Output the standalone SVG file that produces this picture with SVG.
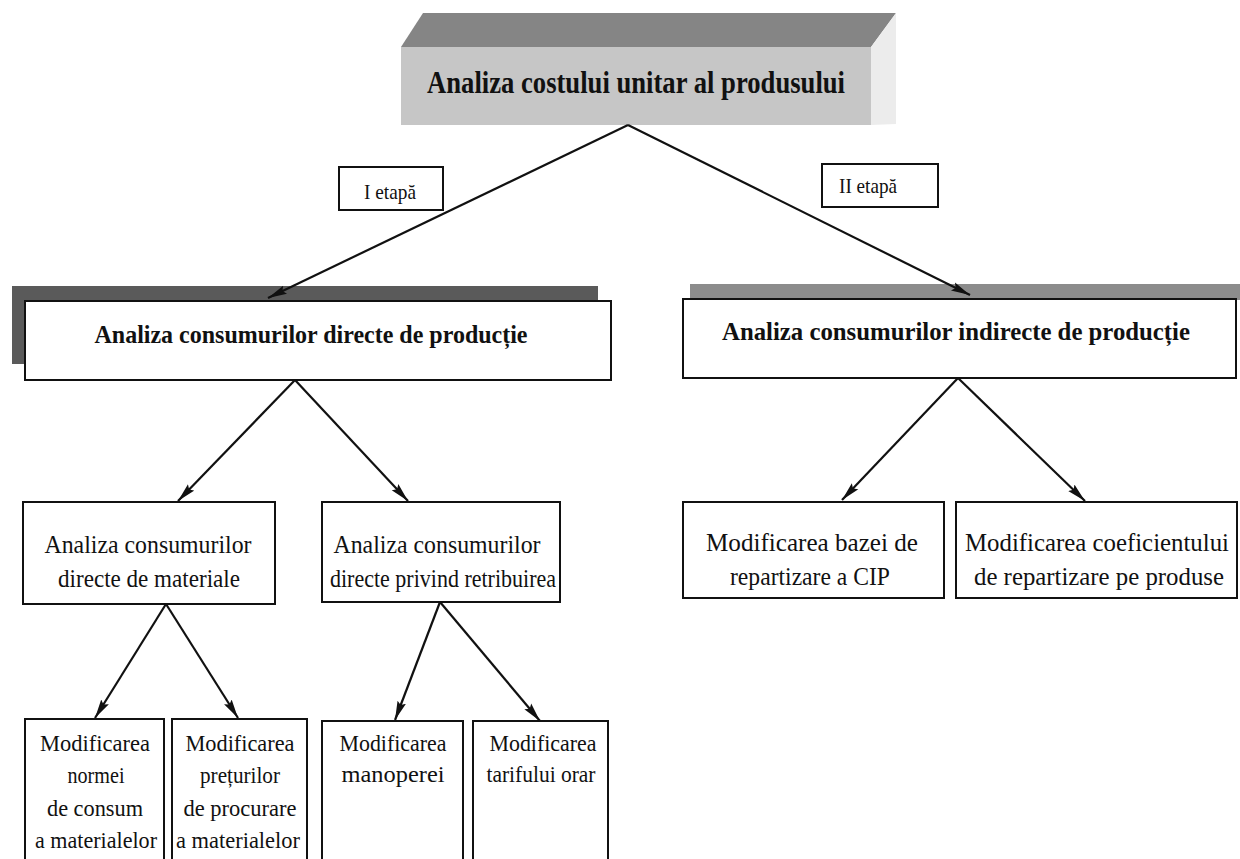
<svg xmlns="http://www.w3.org/2000/svg" width="1240" height="859" viewBox="0 0 1240 859">
  <style>
    .box { fill: #ffffff; stroke: #111111; stroke-width: 2; }
    .lbl { fill: #ffffff; stroke: #111111; stroke-width: 2; }
    .edge { stroke: #111111; stroke-width: 2.2; fill: none; marker-end: url(#arrow); }
    .title { font-family: "Liberation Serif", "Times New Roman", serif; font-weight: bold; fill: #111111; text-anchor: middle; }
    .txt { font-family: "Liberation Serif", "Times New Roman", serif; fill: #111111; text-anchor: middle; }
  </style>
  <defs>
    <marker id="arrow" markerUnits="userSpaceOnUse" markerWidth="20" markerHeight="12" refX="19" refY="5" orient="auto">
      <path d="M0,0.5 L19,5 L0,9.5 L3,5 Z" fill="#111111"/>
    </marker>
  </defs>

  <rect width="1240" height="859" fill="#ffffff"/>

  <!-- root: raised bar -->
  <g id="node-root">
    <polygon points="401,47 423,13 896,13 871,47" fill="#858585"/>
    <polygon points="871,47 896,13 896,124 871,125" fill="#ececec"/>
    <rect x="401" y="47" width="470" height="78" fill="#c6c6c6"/>
    <text class="title" x="636" y="93" font-size="31" textLength="418" lengthAdjust="spacingAndGlyphs">Analiza costului unitar al produsului</text>
  </g>

  <g id="label-stage1">
    <rect class="lbl" x="339" y="167" width="104" height="43"/>
    <text class="txt" x="390" y="199" font-size="21" textLength="52" lengthAdjust="spacingAndGlyphs">I etapă</text>
  </g>

  <g id="label-stage2">
    <rect class="lbl" x="822" y="164" width="116" height="43"/>
    <text class="txt" x="868" y="193" font-size="21" textLength="58" lengthAdjust="spacingAndGlyphs">II etapă</text>
  </g>

  <g id="node-direct">
    <rect x="12" y="286" width="586" height="78" fill="#5a5a5a"/>
    <rect class="box" x="25" y="301" width="586" height="79"/>
    <text class="title" x="311" y="343" font-size="26" textLength="433" lengthAdjust="spacingAndGlyphs">Analiza consumurilor directe de producție</text>
  </g>

  <g id="node-indirect">
    <rect x="690" y="284" width="550" height="16" fill="#8c8c8c"/>
    <rect class="box" x="683" y="299" width="553" height="79"/>
    <text class="title" x="956" y="340" font-size="26" textLength="468" lengthAdjust="spacingAndGlyphs">Analiza consumurilor indirecte de producție</text>
  </g>

  <g id="node-materials">
    <rect class="box" x="23" y="502" width="252" height="102"/>
    <text class="txt" x="148" y="553" font-size="25" textLength="207" lengthAdjust="spacingAndGlyphs">Analiza consumurilor</text>
    <text class="txt" x="149" y="587" font-size="25" textLength="182" lengthAdjust="spacingAndGlyphs">directe de materiale</text>
  </g>

  <g id="node-wages">
    <rect class="box" x="322" y="502" width="238" height="100"/>
    <text class="txt" x="437" y="553" font-size="25" textLength="207" lengthAdjust="spacingAndGlyphs">Analiza consumurilor</text>
    <text class="txt" x="443" y="587" font-size="25" textLength="226" lengthAdjust="spacingAndGlyphs">directe privind retribuirea</text>
  </g>

  <g id="node-base">
    <rect class="box" x="683" y="502" width="261" height="96"/>
    <text class="txt" x="812" y="551" font-size="25" textLength="212" lengthAdjust="spacingAndGlyphs">Modificarea bazei de</text>
    <text class="txt" x="810" y="585" font-size="25" textLength="160" lengthAdjust="spacingAndGlyphs">repartizare a CIP</text>
  </g>

  <g id="node-coef">
    <rect class="box" x="956" y="502" width="281" height="96"/>
    <text class="txt" x="1097" y="551" font-size="25" textLength="264" lengthAdjust="spacingAndGlyphs">Modificarea coeficientului</text>
    <text class="txt" x="1099" y="585" font-size="25" textLength="250" lengthAdjust="spacingAndGlyphs">de repartizare pe produse</text>
  </g>

  <g id="node-norm">
    <rect class="box" x="25" y="719" width="139" height="150"/>
    <text class="txt" x="95" y="751" font-size="24" textLength="110" lengthAdjust="spacingAndGlyphs">Modificarea</text>
    <text class="txt" x="96" y="783" font-size="24" textLength="57" lengthAdjust="spacingAndGlyphs">normei</text>
    <text class="txt" x="95" y="816" font-size="24" textLength="96" lengthAdjust="spacingAndGlyphs">de consum</text>
    <text class="txt" x="96" y="848" font-size="24" textLength="122" lengthAdjust="spacingAndGlyphs">a materialelor</text>
  </g>

  <g id="node-prices">
    <rect class="box" x="172" y="719" width="135" height="150"/>
    <text class="txt" x="240" y="751" font-size="24" textLength="109" lengthAdjust="spacingAndGlyphs">Modificarea</text>
    <text class="txt" x="240" y="783" font-size="24" textLength="80" lengthAdjust="spacingAndGlyphs">prețurilor</text>
    <text class="txt" x="240" y="816" font-size="24" textLength="113" lengthAdjust="spacingAndGlyphs">de procurare</text>
    <text class="txt" x="238" y="848" font-size="24" textLength="124" lengthAdjust="spacingAndGlyphs">a materialelor</text>
  </g>

  <g id="node-labour">
    <rect class="box" x="322" y="721" width="141" height="150"/>
    <text class="txt" x="393" y="751" font-size="24" textLength="107" lengthAdjust="spacingAndGlyphs">Modificarea</text>
    <text class="txt" x="393" y="782" font-size="24" textLength="103" lengthAdjust="spacingAndGlyphs">manoperei</text>
  </g>

  <g id="node-rate">
    <rect class="box" x="473" y="721" width="135" height="150"/>
    <text class="txt" x="543" y="751" font-size="24" textLength="107" lengthAdjust="spacingAndGlyphs">Modificarea</text>
    <text class="txt" x="541" y="782" font-size="24" textLength="109" lengthAdjust="spacingAndGlyphs">tarifului orar</text>
  </g>

  <!-- connectors -->
  <g id="connectors">
    <line class="edge" x1="628" y1="125" x2="268" y2="298"/>
    <line class="edge" x1="628" y1="125" x2="970" y2="295"/>
    <line class="edge" x1="295" y1="380" x2="178" y2="501"/>
    <line class="edge" x1="295" y1="380" x2="408" y2="501"/>
    <line class="edge" x1="958" y1="378" x2="842" y2="500"/>
    <line class="edge" x1="958" y1="378" x2="1085" y2="501"/>
    <line class="edge" x1="166" y1="604" x2="95" y2="718"/>
    <line class="edge" x1="166" y1="604" x2="238" y2="718"/>
    <line class="edge" x1="440" y1="602" x2="395" y2="720"/>
    <line class="edge" x1="440" y1="602" x2="540" y2="721"/>
  </g>
</svg>
